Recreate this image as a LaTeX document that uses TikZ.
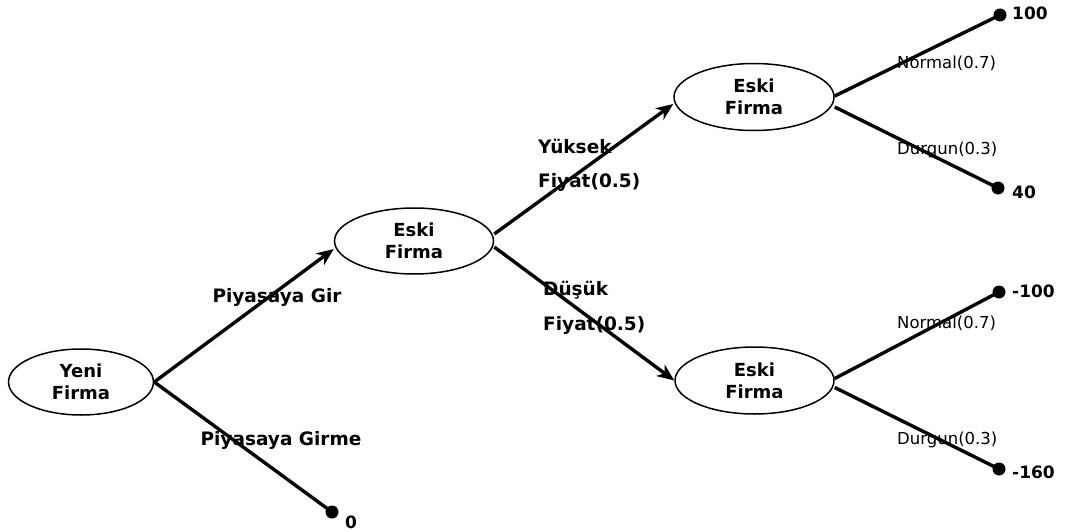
\documentclass[tikz,border=0pt]{standalone}
\usepackage{fontspec}
\setmainfont{DejaVu Sans}
\usetikzlibrary{shapes.geometric,arrows.meta}
\begin{document}
\begin{tikzpicture}[x=1pt,y=-1pt,
  firm/.style={ellipse,draw,line width=1.5pt,inner sep=0pt,align=center,
    font=\bfseries\fontsize{18}{22}\selectfont},
  branch/.style={line width=3.4pt},
  arr/.style={branch,-{Stealth[length=17pt,width=14pt,inset=5pt]}},
  leaf/.style={circle,fill,inner sep=0pt,minimum size=13pt},
  blab/.style={font=\bfseries\fontsize{18.5}{22}\selectfont,inner sep=0pt},
  rlab/.style={font=\fontsize{16.5}{19}\selectfont,inner sep=0pt},
  val/.style={font=\bfseries\fontsize{17}{20}\selectfont,inner sep=0pt,anchor=west}]
\useasboundingbox (0,0) rectangle (1065,532);

% decision and chance nodes
\node[firm,minimum width=145pt,minimum height=66pt] (yeni) at (81,382) {Yeni\\Firma};
\node[firm,minimum width=159pt,minimum height=66pt] (eski) at (414,241) {Eski\\Firma};
\node[firm,minimum width=160pt,minimum height=67pt] (eskiH) at (754,97) {Eski\\Firma};
\node[firm,minimum width=159pt,minimum height=67pt] (eskiL) at (754.5,380.5) {Eski\\Firma};

% terminal points
\node[leaf] (out0) at (332,512) {};
\node[leaf] (outA) at (1000,15) {};
\node[leaf] (outB) at (998,188) {};
\node[leaf] (outC) at (999,292) {};
\node[leaf] (outD) at (999,469) {};

% branches
\draw[arr] (yeni.east) -- ([yshift=-8pt]eski.west);
\draw[branch] (yeni.east) -- (out0.center);
\draw[arr] ([yshift=7pt]eski.east) -- ([yshift=-7pt]eskiH.west);
\draw[arr] ([yshift=-6pt]eski.east) -- (eskiL.west);
\draw[branch] ([yshift=1pt]eskiH.east) -- (outA.center);
\draw[branch] ([yshift=-10pt]eskiH.east) -- (outB.center);
\draw[branch] ([yshift=2pt]eskiL.east) -- (outC.center);
\draw[branch] ([yshift=-7pt]eskiL.east) -- (outD.center);

% branch labels
\node[blab] (l1) at (277,297) {Piyasaya Gir};
\node[blab] (l2) at (281,440) {Piyasaya Girme};
\node[blab,anchor=west] (l3) at (538,146) {Yüksek};
\node[blab,anchor=west] (l4) at (538,182) {Fiyat(0.5)};
\node[blab,anchor=west] (l5) at (543,290) {Düşük};
\node[blab,anchor=west] (l6) at (543,325) {Fiyat(0.5)};
\node[rlab,anchor=west] (l7) at (897,63) {Normal(0.7)};
\node[rlab,anchor=west] (l8) at (897,150) {Durgun(0.3)};
\node[rlab,anchor=west] (l9) at (897,323) {Normal(0.7)};
\node[rlab,anchor=west] (l10) at (897,440) {Durgun(0.3)};

% payoffs
\node[val] (v0) at (345,522) {0};
\node[val] (vA) at (1012,13) {100};
\node[val] (vB) at (1012,192) {40};
\node[val] (vC) at (1012,291) {-100};
\node[val] (vD) at (1012,472) {-160};
\end{tikzpicture}
\end{document}
